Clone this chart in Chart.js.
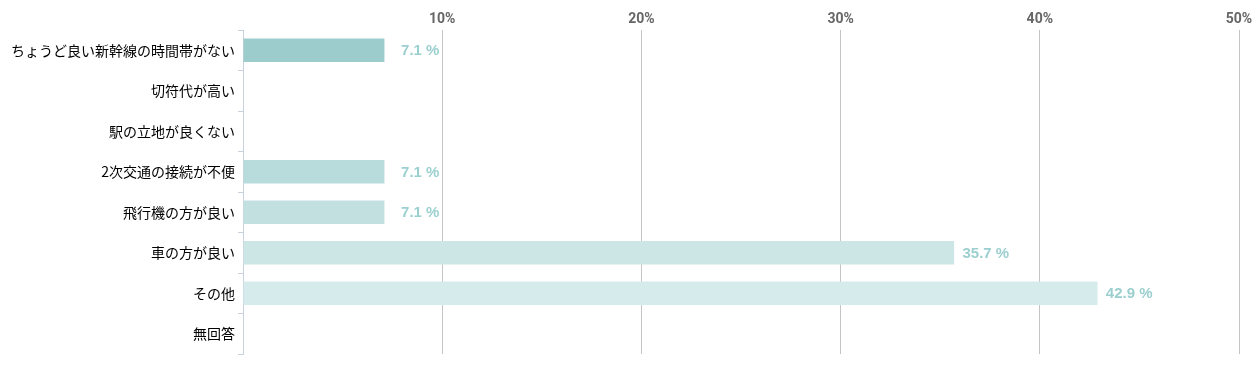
<!DOCTYPE html>
<html>
<head><meta charset="utf-8"><title>理由</title>
<script src="https://cdn.jsdelivr.net/npm/chart.js"></script>
<style>
  html,body{margin:0;padding:0;background:#fff;}
  #wrap{position:relative;width:1259px;height:369px;}
</style>
</head>
<body>
<div id="wrap"><canvas id="barChart"></canvas></div>
<script>
const categories = ['ちょうど良い新幹線の時間帯がない', '切符代が高い', '駅の立地が良くない', '2次交通の接続が不便',
                    '飛行機の方が良い', '車の方が良い', 'その他', '無回答'];
const percents = [7.1, 0, 0, 7.1, 7.1, 35.7, 42.9, 0];
const tickValues = [10, 20, 30, 40, 50];
const barColors = ['#9ccccc', '#a5d1d1', '#aed5d5', '#b8dbdb', '#c2e0e0', '#cce5e5', '#d6ebeb', '#dfefef'];

// 値ラベル（右揃え）
const valueLabels = {
  id: 'valueLabels',
  afterDatasetsDraw(chart) {
    const ctx = chart.ctx;
    const meta = chart.getDatasetMeta(0);
    ctx.save();
    ctx.font = 'bold 15px "Liberation Sans", Arial, sans-serif';
    ctx.fillStyle = '#9ccfcf';
    ctx.textBaseline = 'middle';
    ctx.textAlign = 'right';
    meta.data.forEach((bar, i) => {
      const v = percents[i];
      if (!v) return;
      ctx.fillText(v.toFixed(1) + ' %', bar.x + 55, bar.y + 1);
    });
    ctx.restore();
  }
};

new Chart(document.getElementById('barChart'), {
  type: 'bar',
  data: {
    labels: categories,
    datasets: [{ data: percents, backgroundColor: barColors, barPercentage: 0.58, categoryPercentage: 1 }]
  },
  options: {
    indexAxis: 'y',
    responsive: true,
    maintainAspectRatio: false,
    animation: false,
    layout: { padding: { left: 0, right: 20, top: 0, bottom: 15 } },
    plugins: { legend: { display: false }, tooltip: { enabled: false } },
    scales: {
      x: {
        position: 'top',
        min: 0, max: 50,
        afterBuildTicks: (s) => { s.ticks = [0].concat(tickValues).map(v => ({ value: v })); },
        afterFit: (s) => { s.height = 30; },
        border: { display: false },
        grid: {
          drawTicks: false,
          color: (c) => c.tick && c.tick.value === 0 ? 'rgba(0,0,0,0)' : '#c4c4c4'
        },
        ticks: {
          padding: 2,
          color: '#666666',
          font: { family: 'Roboto, "Liberation Sans", sans-serif', size: 14, weight: 'bold' },
          callback: (v) => v === 0 ? '' : v + '%'
        }
      },
      y: {
        afterFit: (s) => { s.width = 243; },
        border: { display: true, color: '#c8d2de', width: 1 },
        grid: { drawOnChartArea: false, tickLength: 5, color: '#c8d2de', offset: true },
        ticks: {
          color: '#000000',
          padding: 3,
          font: { family: '"Noto Sans CJK JP", sans-serif', size: 14 }
        }
      }
    }
  },
  plugins: [valueLabels]
});
</script>
</body>
</html>
